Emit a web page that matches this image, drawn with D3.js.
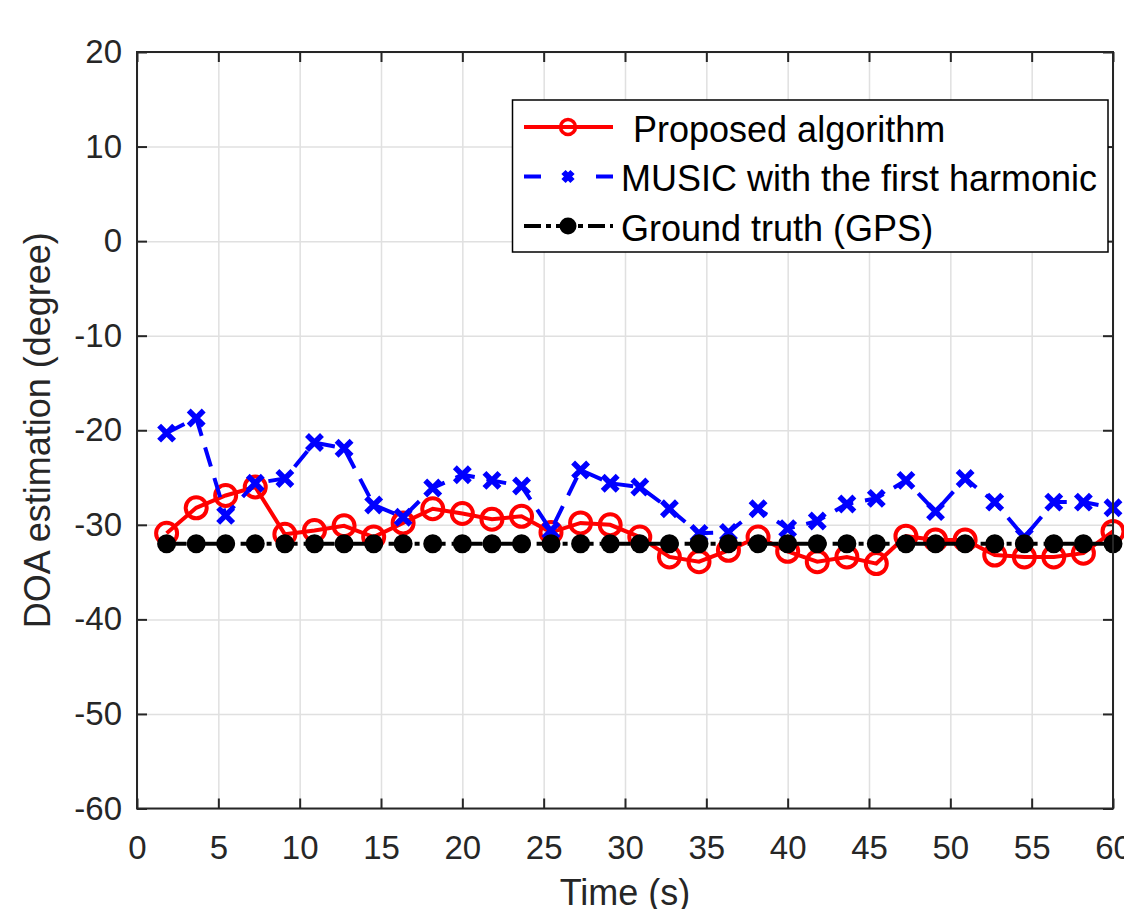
<!DOCTYPE html>
<html>
<head>
<meta charset="utf-8">
<script src="https://cdn.jsdelivr.net/npm/d3@7"></script>
<style>
  body { margin: 0; background: #fff; }
  svg { display: block; font-family: "Liberation Sans", Arial, sans-serif; }
  .grid line { stroke: #e0e0e0; stroke-width: 1.5; }
  .grid path { display: none; }
  .axis path { display: none; }
  .axis line { stroke: #262626; stroke-width: 2; }
  .axis text { fill: #262626; font-size: 33px; }
</style>
</head>
<body>
<svg id="chart" width="1124" height="909"></svg>
<script>
// Time stamps (s) of every estimate
const times = [1.82, 3.64, 5.45, 7.27, 9.09, 10.91, 12.73, 14.55, 16.36, 18.18, 20.00,
  21.82, 23.64, 25.45, 27.27, 29.09, 30.91, 32.73, 34.55, 36.36, 38.18, 40.00,
  41.82, 43.64, 45.45, 47.27, 49.09, 50.91, 52.73, 54.55, 56.36, 58.18, 60.00];

// DOA estimates (degree)
const proposed = [-30.9, -28.2, -26.9, -26.0, -31.0, -30.6, -30.1, -31.3, -29.8, -28.3, -28.8,
  -29.4, -29.1, -30.8, -29.8, -30.0, -31.3, -33.4, -33.9, -32.7, -31.3, -32.8,
  -33.9, -33.4, -34.1, -31.2, -31.6, -31.6, -33.2, -33.4, -33.4, -33.0, -30.7];
const music = [-20.3, -18.7, -29.0, -25.6, -25.1, -21.3, -21.9, -27.9, -29.2, -26.1, -24.7,
  -25.3, -25.9, -30.6, -24.2, -25.6, -26.0, -28.3, -30.9, -30.8, -28.3, -30.4,
  -29.6, -27.8, -27.2, -25.3, -28.6, -25.1, -27.6, -31.3, -27.6, -27.6, -28.2];
const groundTruth = [-32, -32, -32, -32, -32, -32, -32, -32, -32, -32, -32,
  -32, -32, -32, -32, -32, -32, -32, -32, -32, -32, -32,
  -32, -32, -32, -32, -32, -32, -32, -32, -32, -32, -32];

const xTicks = [0, 5, 10, 15, 20, 25, 30, 35, 40, 45, 50, 55, 60];
const yTicks = [20, 10, 0, -10, -20, -30, -40, -50, -60];
const seriesNames = [' Proposed algorithm', 'MUSIC with the first harmonic', 'Ground truth (GPS)'];

const svg = d3.select('#chart');
const margin = { left: 137, right: 11, top: 52, bottom: 100.5 };
const width = +svg.attr('width') - margin.left - margin.right;
const height = +svg.attr('height') - margin.top - margin.bottom;

const x = d3.scaleLinear().domain([0, 60]).range([0, width]);
const y = d3.scaleLinear().domain([-60, 20]).range([height, 0]);
const plainNum = d => String(d); // hyphen minus like the original

const g = svg.append('g').attr('transform', `translate(${margin.left},${margin.top})`);

// Grid
g.append('g').attr('class', 'grid')
  .attr('transform', `translate(0,${height})`)
  .call(d3.axisBottom(x).tickValues(xTicks).tickSize(-height).tickFormat(''));
g.append('g').attr('class', 'grid')
  .call(d3.axisLeft(y).tickValues(yTicks).tickSize(-width).tickFormat(''));

// Axes with inward ticks
g.append('g').attr('class', 'axis')
  .attr('transform', `translate(0,${height})`)
  .call(d3.axisBottom(x).tickValues(xTicks).tickSize(-10).tickPadding(27.5).tickFormat(plainNum));
g.append('g').attr('class', 'axis')
  .call(d3.axisTop(x).tickValues(xTicks).tickSize(-10).tickFormat(''));
g.append('g').attr('class', 'axis')
  .call(d3.axisLeft(y).tickValues(yTicks).tickSize(-10).tickPadding(15).tickFormat(plainNum));
g.append('g').attr('class', 'axis')
  .attr('transform', `translate(${width},0)`)
  .call(d3.axisRight(y).tickValues(yTicks).tickSize(-10).tickFormat(''));

g.selectAll('.axis .tick line').attr('stroke', '#262626');

// Series
const line = d3.line().x(d => x(d[0])).y(d => y(d[1]));
const crossPath = s => `M${-s},${-s}L${s},${s}M${-s},${s}L${s},${-s}`;

const series = [
  { values: proposed, color: '#ff0000', dash: null, marker: 'circle' },
  { values: music, color: '#0000ff', dash: '20,12', marker: 'cross' },
  { values: groundTruth, color: '#000000', dash: '20,6,5,6', marker: 'dot' }
];

const drawMarker = (sel, s) => {
  if (s.marker === 'circle') {
    sel.append('circle').attr('r', 10.5)
      .attr('fill', 'none').attr('stroke', s.color).attr('stroke-width', 4);
  } else if (s.marker === 'cross') {
    sel.append('path').attr('d', crossPath(7.5))
      .attr('fill', 'none').attr('stroke', s.color).attr('stroke-width', 5.5);
  } else {
    sel.append('circle').attr('r', 9.5).attr('fill', s.color);
  }
};

series.forEach(s => {
  const pts = times.map((t, i) => [t, s.values[i]]);
  g.append('path')
    .attr('d', line(pts))
    .attr('fill', 'none')
    .attr('stroke', s.color)
    .attr('stroke-width', 4)
    .attr('stroke-dasharray', s.dash);
  const marks = g.append('g').selectAll('g').data(pts).enter().append('g')
    .attr('transform', d => `translate(${x(d[0])},${y(d[1])})`);
  marks.each(function() { drawMarker(d3.select(this), s); });
});

// Box
g.append('rect')
  .attr('width', width).attr('height', height)
  .attr('fill', 'none').attr('stroke', '#262626').attr('stroke-width', 2);

// Axis labels
svg.append('text')
  .attr('x', margin.left + width / 2).attr('y', 905)
  .attr('text-anchor', 'middle')
  .attr('font-size', 36).attr('fill', '#262626')
  .text('Time (s)');
svg.append('text')
  .attr('transform', `translate(50,${margin.top + height / 2}) rotate(-90)`)
  .attr('text-anchor', 'middle')
  .attr('font-size', 36).attr('fill', '#262626')
  .text('DOA estimation (degree)');

// Legend
const legend = svg.append('g');
legend.append('rect')
  .attr('x', 512.5).attr('y', 100).attr('width', 595.5).attr('height', 152)
  .attr('fill', '#fff').attr('stroke', '#000').attr('stroke-width', 1.5);

series.forEach((s, i) => {
  const cy = 127 + i * 49.5;
  const row = legend.append('g');
  row.append('line').attr('x1', 524).attr('x2', 613).attr('y1', cy).attr('y2', cy)
    .attr('stroke', s.color).attr('stroke-width', 4)
    .attr('stroke-dasharray', i === 1 ? '17,55' : i === 2 ? '17,5,5,5' : null);
  const m = row.append('g').attr('transform', `translate(568,${cy})`);
  if (s.marker === 'circle') {
    m.append('circle').attr('r', 7.5).attr('fill', 'none').attr('stroke', s.color).attr('stroke-width', 3.5);
  } else if (s.marker === 'cross') {
    m.append('path').attr('d', crossPath(4.5)).attr('fill', 'none').attr('stroke', s.color).attr('stroke-width', 6);
  } else {
    m.append('circle').attr('r', 8.5).attr('fill', s.color);
  }
  row.append('text')
    .attr('x', i === 0 ? 623 : 621).attr('y', cy + 14.5)
    .attr('font-size', 36).attr('fill', '#000')
    .attr('xml:space', 'preserve')
    .style('white-space', 'pre')
    .text(seriesNames[i]);
});
</script>
</body>
</html>
